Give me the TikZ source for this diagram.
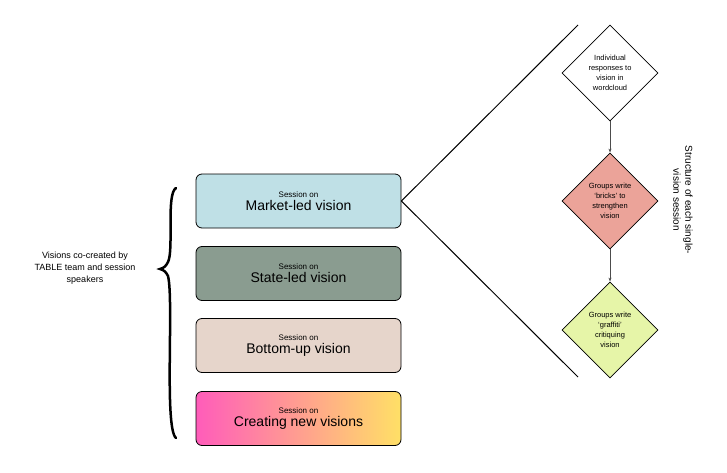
\documentclass[tikz,border=0pt]{standalone}
\usepackage{fontspec}
\setmainfont{Liberation Sans}
\usetikzlibrary{shapes.geometric,arrows.meta,shadings}
\definecolor{marketc}{HTML}{BFE0E6}
\definecolor{statec}{HTML}{8A9C90}
\definecolor{bottomc}{HTML}{E6D5CB}
\definecolor{bricksc}{HTML}{EBA399}
\definecolor{graffc}{HTML}{E6F5A8}
\definecolor{pinkc}{HTML}{FF5CBA}
\definecolor{yellc}{HTML}{FFE066}
\tikzset{
  session/.style={draw=black, line width=0.8pt, rounded corners=6pt, minimum width=205pt, minimum height=54pt, align=center, inner sep=0pt},
  stepbox/.style={diamond, draw=black, line width=0.8pt, minimum width=96pt, minimum height=96pt, inner sep=0pt, align=center, font=\fontsize{7.5}{10}\selectfont},
  flow/.style={draw=black!70, line width=1pt, -{Stealth[length=4pt]}}
}
\newcommand\sessiontext[1]{{\fontsize{8}{9}\selectfont Session on}\\[1pt]{\fontsize{14}{16}\selectfont #1}}
\begin{document}
\begin{tikzpicture}[x=1pt,y=-1pt]
  \useasboundingbox (0,0) rectangle (727,473);
  % sessions
  \node[session, fill=marketc] (market) at (298.5,201) {\sessiontext{Market-led vision}};
  \node[session, fill=statec] (state) at (298.5,273.5) {\sessiontext{State-led vision}};
  \node[session, fill=bottomc] (bottom) at (298.5,345.5) {\sessiontext{Bottom-up vision}};
  \node[session, left color=pinkc, right color=yellc] (newv) at (298.5,418.5) {\sessiontext{Creating new visions}};
  % brace and label
  \node[align=center, font=\fontsize{9}{12}\selectfont] (visions) at (85,268) {Visions co-created by\\TABLE team and session\\speakers};
  \draw[line width=2.5pt, line cap=round] (176,188) .. controls (166,194) and (174,250) .. (168,262)
    .. controls (166,266) and (164,268) .. (160,269)
    .. controls (164,270) and (166,272) .. (168,276)
    .. controls (174,300) and (164,428) .. (176,438);
  % zoom lines
  \coordinate (top) at (578,25);
  \coordinate (bot) at (578,377);
  \draw[line width=1pt] (market.east) -- (top);
  \draw[line width=1pt] (market.east) -- (bot);
  % structure of a session
  \node[stepbox, fill=white] (cloud) at (610,73) {Individual\\responses to\\vision in\\wordcloud};
  \node[stepbox, fill=bricksc] (bricks) at (610,201) {Groups write\\`bricks' to\\strengthen\\vision};
  \node[stepbox, fill=graffc] (graffiti) at (610,330) {Groups write\\`graffiti'\\critiquing\\vision};
  \draw[flow] (cloud) -- (bricks);
  \draw[flow] (bricks) -- (graffiti);
  \node[rotate=-90, align=center, font=\fontsize{10}{12}\selectfont] (structure) at (683,200) {Structure of each single-\\vision session};
\end{tikzpicture}
\end{document}
